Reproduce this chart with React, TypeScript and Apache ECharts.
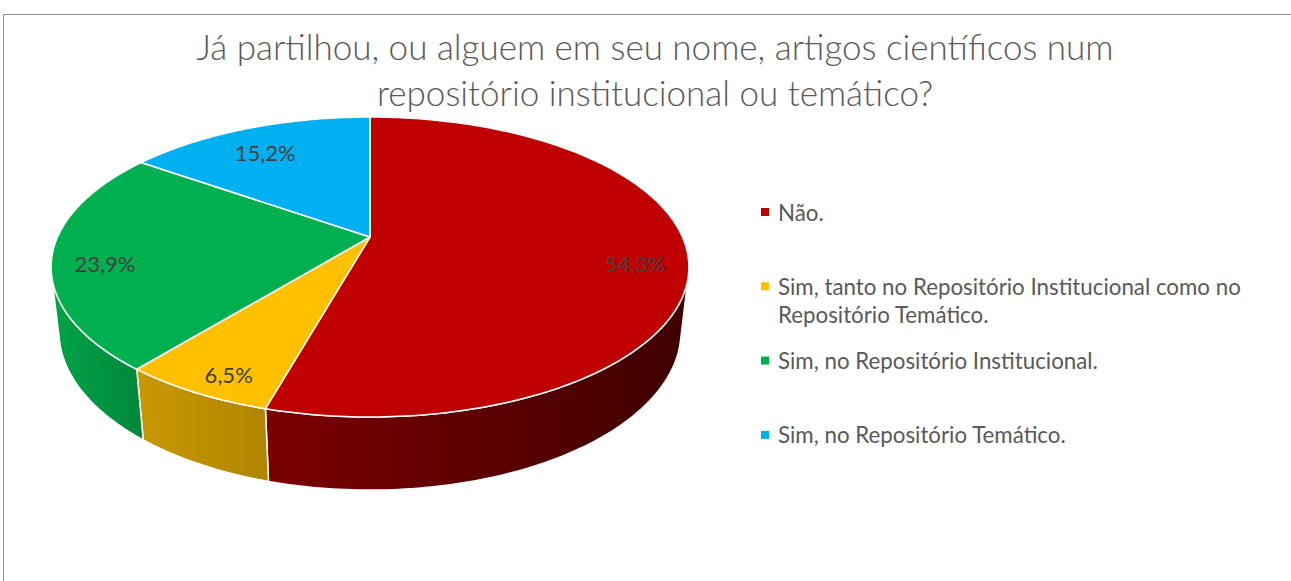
import React, { useEffect, useRef } from 'react';
import * as echarts from 'echarts';

// ---------- data ----------
const categories = [
  'Não.',
  'Sim, tanto no Repositório Institucional como no Repositório Temático.',
  'Sim, no Repositório Institucional.',
  'Sim, no Repositório Temático.',
];
const values = [54.3, 6.5, 23.9, 15.2];
const topColors = ['#C00000', '#FFC000', '#00B050', '#00B0F0'];
const sideColorsLeft = ['#7c0000', '#c99800', '#00a447', '#0090c8'];
const sideColorsRight = ['#3e0000', '#b08500', '#00873a', '#0070a0'];
const titleText = 'Já partilhou, ou alguem em seu nome, artigos científicos num\nrepositório institucional ou temático?';

// ---------- 3D projection (layout) ----------
const CX = 370;
const CY = 237;
const F = 1386;
const SA = 0.4608;
const CA = 0.8875;
const L = 4.436;
const H = 0.233;
const LABEL_R = 0.84;
const LABEL_T = 0.15;

function project(phiDeg: number, r: number, t: number): number[] {
  const p = (phiDeg * Math.PI) / 180;
  const X = r * Math.sin(p);
  const Z = r * Math.cos(p);
  const Y = H * t;
  const depth = L + Y * SA + Z * CA;
  return [CX + (F * X) / depth, CY - (F * (Z * SA - Y * CA)) / depth];
}

const total = values.reduce((a, b) => a + b, 0);
const starts: number[] = [];
const ends: number[] = [];
{
  let acc = 0;
  values.forEach((v) => {
    starts.push((acc / total) * 360);
    acc += v;
    ends.push((acc / total) * 360);
  });
}
const visMin = (Math.acos(-1 / (L * CA)) * 180) / Math.PI;
const visMax = 360 - visMin;

const fmtPct = (v: number) => v.toFixed(1).replace('.', ',') + '%';

const FONT = 'Lato, "Open Sans", sans-serif';

export default function App() {
  const ref = useRef<HTMLDivElement>(null);

  useEffect(() => {
    if (!ref.current) return;
    const chart = echarts.init(ref.current, undefined, { renderer: 'svg' });

    const legendGraphics: any[] = [];
    categories.forEach((name, i) => {
      const cy = 212 + 74.3 * i;
      legendGraphics.push({
        type: 'rect',
        shape: { x: 761, y: cy - 4, width: 8, height: 8 },
        style: { fill: topColors[i] },
        silent: true,
      });
      legendGraphics.push({
        type: 'text',
        x: 778,
        y: cy - 14,
        style: {
          text: name,
          fill: '#595959',
          font: `22.3px ${FONT}`,
          lineHeight: 28,
          width: 485,
          overflow: 'break',
          verticalAlign: 'top',
          align: 'left',
        },
        silent: true,
      });
    });

    chart.setOption({
      animation: false,
      backgroundColor: '#ffffff',
      title: {
        text: titleText,
        left: 655,
        top: 23,
        padding: 0,
        textAlign: 'center',
        textStyle: {
          fontFamily: FONT,
          fontWeight: 300,
          fontSize: 35,
          lineHeight: 46,
          color: '#595959',
        },
      },
      graphic: [
        {
          type: 'rect',
          shape: { x: 3.5, y: 14.5, width: 1400, height: 700 },
          style: { fill: 'none', stroke: '#909090', lineWidth: 1 },
          silent: true,
          z: -10,
        },
        ...legendGraphics,
      ],
      series: [
        {
          type: 'custom',
          coordinateSystem: 'none',
          data: values.map((v, i) => ({
            value: v,
            name: categories[i],
            itemStyle: { color: topColors[i] },
          })),
          renderItem: (params: any, api: any) => {
            const i = params.dataIndex;
            const v = api.value(0);
            const a0 = starts[i];
            const a1 = ends[i];
            const children: any[] = [];
            const w0 = Math.max(a0, visMin);
            const w1 = Math.min(a1, visMax);
            if (w1 > w0) {
              const n = Math.max(2, Math.ceil(w1 - w0));
              const pts: number[][] = [];
              for (let k = 0; k <= n; k++) pts.push(project(w0 + ((w1 - w0) * k) / n, 1, 0));
              for (let k = n; k >= 0; k--) pts.push(project(w0 + ((w1 - w0) * k) / n, 1, 1));
              children.push({
                type: 'polygon',
                shape: { points: pts },
                style: {
                  fill: new echarts.graphic.LinearGradient(0, 0, 1, 0, [
                    { offset: 0, color: sideColorsLeft[i] },
                    { offset: 1, color: sideColorsRight[i] },
                  ]),
                  stroke: '#ffffff',
                  lineWidth: 1.5,
                  lineJoin: 'round',
                },
              });
            }
            const n2 = Math.max(2, Math.ceil(a1 - a0));
            const top: number[][] = [project(0, 0, 0)];
            for (let k = 0; k <= n2; k++) top.push(project(a0 + ((a1 - a0) * k) / n2, 1, 0));
            children.push({
              type: 'polygon',
              shape: { points: top },
              style: {
                fill: api.visual('color'),
                stroke: '#ffffff',
                lineWidth: 1.5,
                lineJoin: 'round',
              },
            });
            const mid = (a0 + a1) / 2;
            const lp = project(mid, LABEL_R, LABEL_T);
            children.push({
              type: 'text',
              x: lp[0],
              y: lp[1],
              style: {
                text: fmtPct(v),
                fill: '#404040',
                font: `22px ${FONT}`,
                align: 'center',
                verticalAlign: 'middle',
              },
            });
            return { type: 'group', children };
          },
        },
      ],
    });

    return () => chart.dispose();
  }, []);

  return (
    <div
      ref={ref}
      style={{ position: 'absolute', left: 0, top: 0, width: 1291, height: 581 }}
    />
  );
}
